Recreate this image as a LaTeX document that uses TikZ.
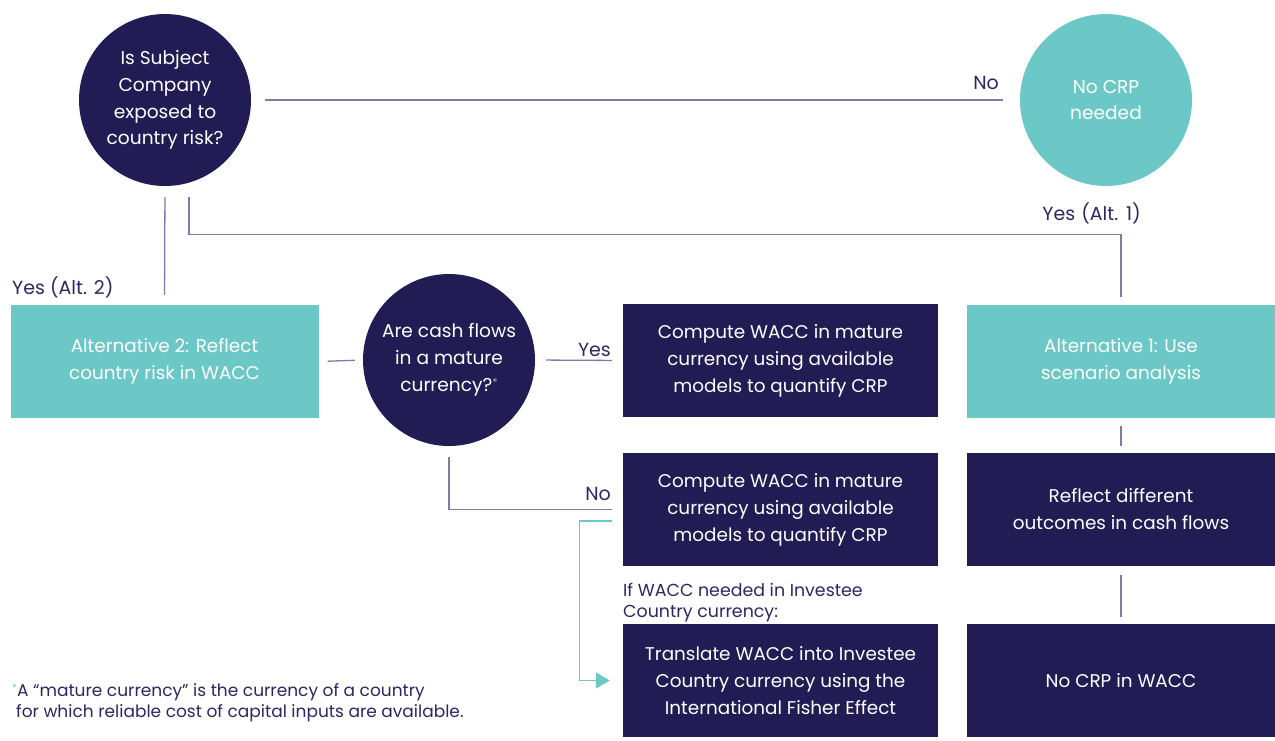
\documentclass[tikz,border=0pt]{standalone}
\usepackage{fontspec}
\setmainfont{Poppins}
\usetikzlibrary{arrows.meta}
\definecolor{navy}{HTML}{221C55}
\definecolor{teal}{HTML}{6BC8C6}
\definecolor{linec}{HTML}{8676A6}
\definecolor{inkc}{HTML}{2B2762}
\tikzset{
  wire/.style={draw=linec, line width=1.3pt},
  tealwire/.style={draw=teal, line width=1.3pt},
  dcirc/.style={circle, fill=navy, text=white, minimum size=172pt, inner sep=0pt, align=center, font=\fontsize{18.6}{26.8}\selectfont},
  tcirc/.style={circle, fill=teal, text=white, minimum size=172pt, inner sep=0pt, align=center, font=\fontsize{18.6}{26.8}\selectfont},
  dbox/.style={rectangle, fill=navy, text=white, minimum width=315pt, minimum height=113pt, inner sep=0pt, align=center, font=\fontsize{18.4}{27}\selectfont},
  tbox/.style={rectangle, fill=teal, text=white, minimum width=308pt, minimum height=113pt, inner sep=0pt, align=center, font=\fontsize{18.4}{27}\selectfont},
  lbl/.style={text=inkc, inner sep=0pt, font=\fontsize{19}{21}\selectfont},
}
\begin{document}
\begin{tikzpicture}[x=1pt,y=-1pt]
  \useasboundingbox (0,0) rectangle (1275,740);
  % decision circles
  \node[dcirc] (q1) at (165,100) {Is Subject\\Company\\exposed to\\country risk?};
  \node[tcirc] (nocrp) at (1106,100) {No CRP\\needed};
  \node[dcirc] (q2) at (449,360) {Are cash flows\\in a mature\\currency?\textcolor{teal}{\raisebox{0.5ex}{\fontsize{11}{11}\selectfont*}}};
  % alternative boxes
  \node[tbox] (alt2) at (164.5,361.5) {Alternative 2: Reflect\\country risk in WACC};
  \node[tbox] (alt1) at (1121,361.5) {Alternative 1: Use\\scenario analysis};
  \node[dbox] (c1) at (780.5,360.5) {Compute WACC in mature\\currency using available\\models to quantify CRP};
  \node[dbox] (c2) at (780.5,509.5) {Compute WACC in mature\\currency using available\\models to quantify CRP};
  \node[dbox] (tr) at (780.5,680.5) {Translate WACC into Investee\\Country currency using the\\International Fisher Effect};
  \node[tbox, fill=navy] (refl) at (1121,509.5) {Reflect different\\outcomes in cash flows};
  \node[tbox, fill=navy] (nowacc) at (1121,680.5) {No CRP in WACC};
  % connectors
  \draw[wire, shorten <=14pt, shorten >=17pt] (q1.east) -- (nocrp.west);
  \draw[wire, shorten <=11pt, shorten >=10pt] (q1.south) -- (alt2.north);
  \draw[wire] ([xshift=24pt,yshift=-11pt]q1.south) |- ([yshift=70pt]alt1.north) -- ([yshift=8pt]alt1.north);
  \draw[wire, shorten <=9pt, shorten >=8pt] (alt2.east) -- (q2.west);
  \draw[wire, shorten <=11pt, shorten >=11pt] (q2.east) -- (c1.west);
  \draw[wire, shorten <=11pt, shorten >=11pt] (q2.south) |- (c2.west);
  \draw[tealwire, -{Triangle[length=14pt,width=16pt]}, shorten >=13pt] ([xshift=-11pt,yshift=-11.5pt]c2.west) -- ++(-32,0) |- (tr.west);
  \draw[wire, shorten <=8pt, shorten >=7pt] (alt1.south) -- (refl.north);
  \draw[wire, shorten <=9pt, shorten >=7pt] (refl.south) -- (nowacc.north);
  % branch labels
  \node[lbl, anchor=south east] (lno1) at (999,90) {No};
  \node[lbl, anchor=south east] (lalt1) at (1141,224) {Yes\hspace{1pt} (Alt.\hspace{1pt} 1)};
  \node[lbl, anchor=south west] (lalt2) at (12,298) {Yes (Alt. 2)};
  \node[lbl, anchor=south east] (lyes) at (611,357) {Yes};
  \node[lbl, anchor=south east] (lno2) at (611,501) {No};
  \node[lbl, anchor=north west, align=left, font=\fontsize{17.4}{21}\selectfont] (lif) at (623,583) {If WACC needed in Investee\\Country currency:};
  % footnote
  \node[lbl, anchor=north west, align=left, font=\fontsize{17}{21}\selectfont] (fnote) at (12,683) {\textcolor{teal}{\raisebox{0.5ex}{\fontsize{10}{10}\selectfont*}}A “mature currency” is the currency of a country\\\hspace*{4pt}for which reliable cost of capital inputs are available.};
\end{tikzpicture}
\end{document}
